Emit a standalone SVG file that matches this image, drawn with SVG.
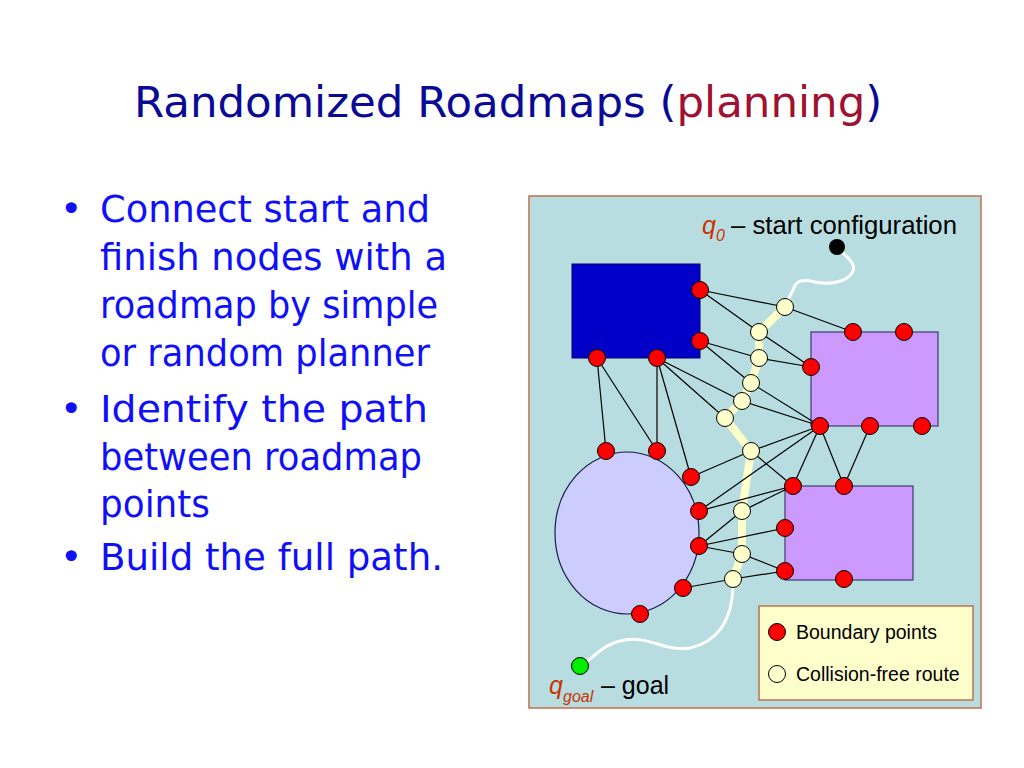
<svg xmlns="http://www.w3.org/2000/svg" width="1024" height="768" viewBox="0 0 1024 768">
<defs>
<style>
.title{font-family:"DejaVu Sans","Noto Sans",sans-serif;font-size:43.5px}
.bul{font-family:"DejaVu Sans","Noto Sans",sans-serif;font-size:38px;fill:#1010f8}
.lbl{font-family:"Liberation Sans",Arial,sans-serif;font-size:25px;fill:#000}
.q{font-family:"Liberation Sans",Arial,sans-serif;font-style:italic;fill:#cc3300}
.leg{font-family:"Liberation Sans",Arial,sans-serif;font-size:19.5px;fill:#000}
.red{fill:#ff0000;stroke:#000;stroke-width:1}
.crm{fill:#ffffcc;stroke:#000;stroke-width:1}
.edge{stroke:#000;stroke-width:1.2;fill:none}
</style>
</defs>
<rect width="1024" height="768" fill="#ffffff"/>

<g id="title">
<text class="title" x="134" y="117" fill="#0a0a96">Randomized Roadmaps (<tspan fill="#a01030">planning</tspan>)</text>
</g>

<g id="bullets">
<text class="bul" x="60" y="222">•</text>
<text class="bul" x="100" y="222" textLength="330" lengthAdjust="spacingAndGlyphs">Connect start and</text>
<text class="bul" x="100" y="270" textLength="347" lengthAdjust="spacingAndGlyphs">finish nodes with a</text>
<text class="bul" x="100" y="318" textLength="338" lengthAdjust="spacingAndGlyphs">roadmap by simple</text>
<text class="bul" x="100" y="366" textLength="330" lengthAdjust="spacingAndGlyphs">or random planner</text>
<text class="bul" x="60" y="422">•</text>
<text class="bul" x="100" y="422" textLength="328" lengthAdjust="spacingAndGlyphs">Identify the path</text>
<text class="bul" x="100" y="470" textLength="322" lengthAdjust="spacingAndGlyphs">between roadmap</text>
<text class="bul" x="100" y="517" textLength="110" lengthAdjust="spacingAndGlyphs">points</text>
<text class="bul" x="60" y="570">•</text>
<text class="bul" x="100" y="570" textLength="343" lengthAdjust="spacingAndGlyphs">Build the full path.</text>
</g>

<g id="panel">
<rect x="529" y="196" width="452" height="512" fill="#b7dde1" stroke="#c0704c" stroke-width="1.5"/>
</g>

<g id="obstacles">
<rect id="obstacle-blue" x="572" y="264" width="128" height="94" fill="#0000c8" stroke="#000060" stroke-width="1"/>
<rect id="obstacle-purple-top" x="811" y="332" width="127" height="94" fill="#cc99ff" stroke="#3c3c6c" stroke-width="1.2"/>
<rect id="obstacle-purple-bottom" x="785" y="486" width="128" height="94" fill="#cc99ff" stroke="#3c3c6c" stroke-width="1.2"/>
<ellipse id="obstacle-ellipse" cx="627" cy="533" rx="72" ry="81" fill="#ccccff" stroke="#1a1a4a" stroke-width="1.2"/>
</g>

<g id="route">
<path d="M785,307 L759,332 L759,358 L751,383 L742,401 L725,418 L751,451 L742,511 L742,554 L733,579" stroke="#ffffcc" stroke-width="8" fill="none" stroke-linejoin="round"/>
<path d="M836,247 C846,256 858,264 852,273 C846,282 830,285 815,282 C802,279 796,280 793,290 L787,302" stroke="#ffffff" stroke-width="3" fill="none"/>
<path d="M733,588 C732,610 725,640 690,648 C665,652 650,636 625,640 C605,643 595,655 582,666" stroke="#ffffff" stroke-width="3" fill="none"/>
</g>

<g id="connectors">
<line class="edge" x1="700" y1="290" x2="785" y2="307"/>
<line class="edge" x1="785" y1="307" x2="853" y2="332"/>
<line class="edge" x1="700" y1="290" x2="759" y2="332"/>
<line class="edge" x1="759" y1="332" x2="811" y2="367"/>
<line class="edge" x1="700" y1="341" x2="759" y2="358"/>
<line class="edge" x1="759" y1="358" x2="811" y2="367"/>
<line class="edge" x1="700" y1="341" x2="751" y2="383"/>
<line class="edge" x1="751" y1="383" x2="820" y2="426"/>
<line class="edge" x1="657" y1="358" x2="742" y2="401"/>
<line class="edge" x1="742" y1="401" x2="820" y2="426"/>
<line class="edge" x1="657" y1="358" x2="725" y2="418"/>
<line class="edge" x1="657" y1="358" x2="691" y2="477"/>
<line x1="657" y1="358" x2="657" y2="451" stroke="#555555" stroke-width="2"/>
<line class="edge" x1="597" y1="358" x2="606" y2="451"/>
<line class="edge" x1="597" y1="358" x2="657" y2="451"/>
<line class="edge" x1="751" y1="451" x2="820" y2="426"/>
<line class="edge" x1="751" y1="451" x2="691" y2="477"/>
<line class="edge" x1="751" y1="451" x2="793" y2="486"/>
<line class="edge" x1="820" y1="426" x2="793" y2="486"/>
<line class="edge" x1="820" y1="426" x2="844" y2="486"/>
<line class="edge" x1="870" y1="426" x2="844" y2="486"/>
<line class="edge" x1="820" y1="426" x2="699" y2="511"/>
<line class="edge" x1="699" y1="511" x2="793" y2="486"/>
<line class="edge" x1="742" y1="511" x2="793" y2="486"/>
<line class="edge" x1="699" y1="546" x2="742" y2="511"/>
<line class="edge" x1="699" y1="546" x2="785" y2="528"/>
<line class="edge" x1="699" y1="546" x2="742" y2="554"/>
<line class="edge" x1="742" y1="554" x2="785" y2="571"/>
<line class="edge" x1="733" y1="579" x2="785" y2="571"/>
<line class="edge" x1="733" y1="579" x2="683" y2="588"/>
</g>

<g id="boundary-points">
<circle id="b1" class="red" cx="700" cy="290" r="8.5"/>
<circle id="b2" class="red" cx="700" cy="341" r="8.5"/>
<circle id="b3" class="red" cx="597" cy="358" r="8.5"/>
<circle id="b4" class="red" cx="657" cy="358" r="8.5"/>
<circle id="b5" class="red" cx="853" cy="332" r="8.5"/>
<circle id="b6" class="red" cx="904" cy="332" r="8.5"/>
<circle id="b7" class="red" cx="811" cy="367" r="8.5"/>
<circle id="b8" class="red" cx="820" cy="426" r="8.5"/>
<circle id="b9" class="red" cx="870" cy="426" r="8.5"/>
<circle id="b10" class="red" cx="922" cy="426" r="8.5"/>
<circle id="b11" class="red" cx="606" cy="451" r="8.5"/>
<circle id="b12" class="red" cx="657" cy="451" r="8.5"/>
<circle id="b13" class="red" cx="691" cy="477" r="8.5"/>
<circle id="b14" class="red" cx="699" cy="511" r="8.5"/>
<circle id="b15" class="red" cx="699" cy="546" r="8.5"/>
<circle id="b16" class="red" cx="683" cy="588" r="8.5"/>
<circle id="b17" class="red" cx="640" cy="614" r="8.5"/>
<circle id="b18" class="red" cx="793" cy="486" r="8.5"/>
<circle id="b19" class="red" cx="844" cy="486" r="8.5"/>
<circle id="b20" class="red" cx="785" cy="528" r="8.5"/>
<circle id="b21" class="red" cx="785" cy="571" r="8.5"/>
<circle id="b22" class="red" cx="844" cy="579" r="8.5"/>
</g>

<g id="route-points">
<circle id="c1" class="crm" cx="785" cy="307" r="8.5"/>
<circle id="c2" class="crm" cx="759" cy="332" r="8.5"/>
<circle id="c3" class="crm" cx="759" cy="358" r="8.5"/>
<circle id="c4" class="crm" cx="751" cy="383" r="8.5"/>
<circle id="c5" class="crm" cx="742" cy="401" r="8.5"/>
<circle id="c6" class="crm" cx="725" cy="418" r="8.5"/>
<circle id="c7" class="crm" cx="751" cy="451" r="8.5"/>
<circle id="c8" class="crm" cx="742" cy="511" r="8.5"/>
<circle id="c9" class="crm" cx="742" cy="554" r="8.5"/>
<circle id="c10" class="crm" cx="733" cy="579" r="8.5"/>
</g>

<g id="start">
<circle cx="837" cy="247" r="8" fill="#000"/>
<text class="q" x="702" y="234" font-size="25">q</text>
<text class="q" x="716" y="241" font-size="16">0</text>
<text class="lbl" x="731" y="234" textLength="226" lengthAdjust="spacingAndGlyphs">– start configuration</text>
</g>

<g id="goal">
<circle cx="580" cy="666" r="8.5" fill="#00ee00" stroke="#000" stroke-width="1"/>
<text class="q" x="549" y="694" font-size="25">q</text>
<text class="q" x="563" y="702" font-size="16">goal</text>
<text class="lbl" x="601" y="694">– goal</text>
</g>

<g id="legend">
<rect x="759" y="606" width="214" height="94" fill="#ffffcc" stroke="#c0704c" stroke-width="1.5"/>
<circle class="red" cx="777" cy="632" r="8.5"/>
<text class="leg" x="796" y="639">Boundary points</text>
<circle class="crm" cx="777" cy="674" r="8.5"/>
<text class="leg" x="796" y="681">Collision-free route</text>
</g>
</svg>
